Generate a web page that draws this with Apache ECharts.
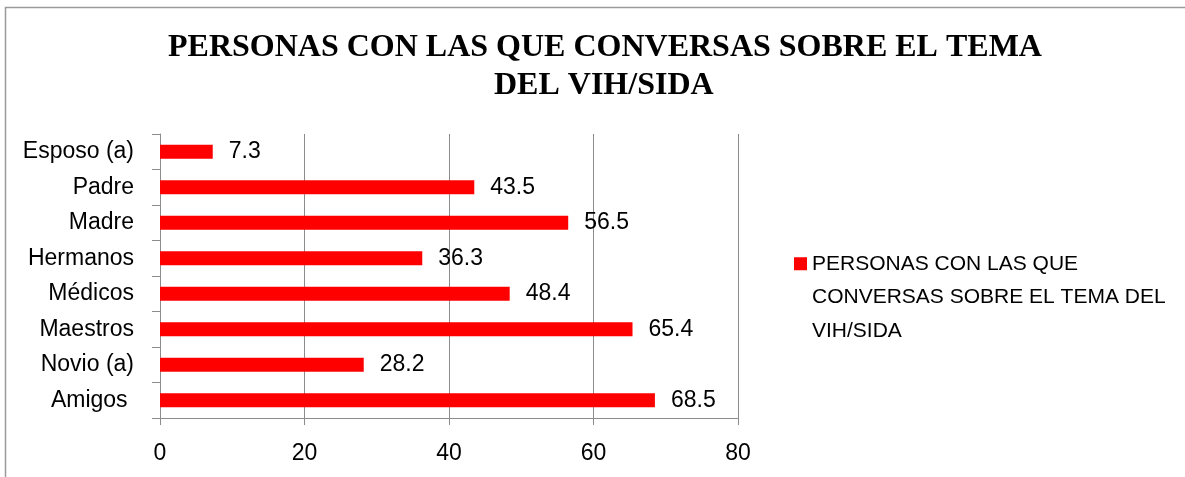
<!DOCTYPE html>
<html>
<head>
<meta charset="utf-8">
<script src="https://cdn.jsdelivr.net/npm/echarts@6/dist/echarts.min.js"></script>
<style>
  html, body { margin: 0; padding: 0; background: #fff; }
  #chart { width: 1185px; height: 477px; }
</style>
</head>
<body>
<div id="chart"></div>
<script>
// datos (de abajo hacia arriba)
var categorias = ['Amigos ', 'Novio (a)', 'Maestros', 'Médicos', 'Hermanos', 'Madre', 'Padre', 'Esposo (a)']
var valores = [68.5, 28.2, 65.4, 48.4, 36.3, 56.5, 43.5, 7.3]
var nombreSerie = 'PERSONAS CON LAS QUE CONVERSAS SOBRE EL TEMA DEL VIH/SIDA'
var ejeX = { min: 0, max: 80, interval: 20 }

var myChart = echarts.init(document.getElementById('chart'))
var gris = '#8c8c8c'
var fuente = '"Liberation Sans", Arial, sans-serif'
var estiloTitulo = {
  fontFamily: '"Liberation Serif", "Times New Roman", serif',
  fontWeight: 'bold',
  fontSize: 32,
  lineHeight: 38,
  color: '#000'
}

var option = {
  animation: false,
  backgroundColor: '#fff',
  // el título va en dos líneas centradas, una por componente
  title: [
    {
      text: 'PERSONAS CON LAS QUE CONVERSAS SOBRE EL TEMA',
      left: 163,
      top: 24,
      padding: 5,
      textStyle: estiloTitulo
    },
    {
      text: 'DEL VIH/SIDA',
      left: 489,
      top: 62,
      padding: 5,
      textStyle: estiloTitulo
    }
  ],
  legend: {
    data: [nombreSerie],
    left: 789,
    top: 175,
    orient: 'vertical',
    itemWidth: 13,
    itemHeight: 13,
    icon: 'rect',
    // dos líneas vacías arriba para que el cuadro quede junto a la primera línea
    formatter: function () {
      return '\n\nPERSONAS CON LAS QUE\nCONVERSAS SOBRE EL TEMA DEL\nVIH/SIDA'
    },
    textStyle: {
      fontFamily: fuente,
      fontSize: 21,
      lineHeight: 33.5,
      color: '#000'
    }
  },
  grid: {
    left: 160,
    right: 447,
    top: 134,
    bottom: 59,
    containLabel: false
  },
  xAxis: {
    type: 'value',
    min: ejeX.min,
    max: ejeX.max,
    interval: ejeX.interval,
    axisLine: { show: true, lineStyle: { color: gris, width: 1 } },
    axisTick: { show: true, length: 7, lineStyle: { color: gris } },
    splitLine: { show: true, lineStyle: { color: gris, width: 1 } },
    axisLabel: {
      fontFamily: fuente,
      fontSize: 23,
      color: '#000',
      margin: 24
    }
  },
  yAxis: {
    type: 'category',
    data: categorias,
    axisLine: { show: true, lineStyle: { color: gris, width: 1 } },
    axisTick: { show: true, length: 8, lineStyle: { color: gris } },
    axisLabel: {
      fontFamily: fuente,
      fontSize: 23,
      color: '#000',
      margin: 26
    }
  },
  series: [
    {
      name: nombreSerie,
      type: 'bar',
      data: valores,
      barWidth: 14,
      itemStyle: { color: '#ff0000' },
      label: {
        show: true,
        position: 'right',
        distance: 16,
        fontFamily: fuente,
        fontSize: 23,
        color: '#000'
      }
    }
  ],
  graphic: [
    {
      type: 'rect',
      silent: true,
      shape: { x: 5.5, y: 7.5, width: 1400, height: 700 },
      style: { fill: 'none', stroke: '#9a9a9a', lineWidth: 1.5 }
    }
  ]
}

myChart.setOption(option)
</script>
</body>
</html>
